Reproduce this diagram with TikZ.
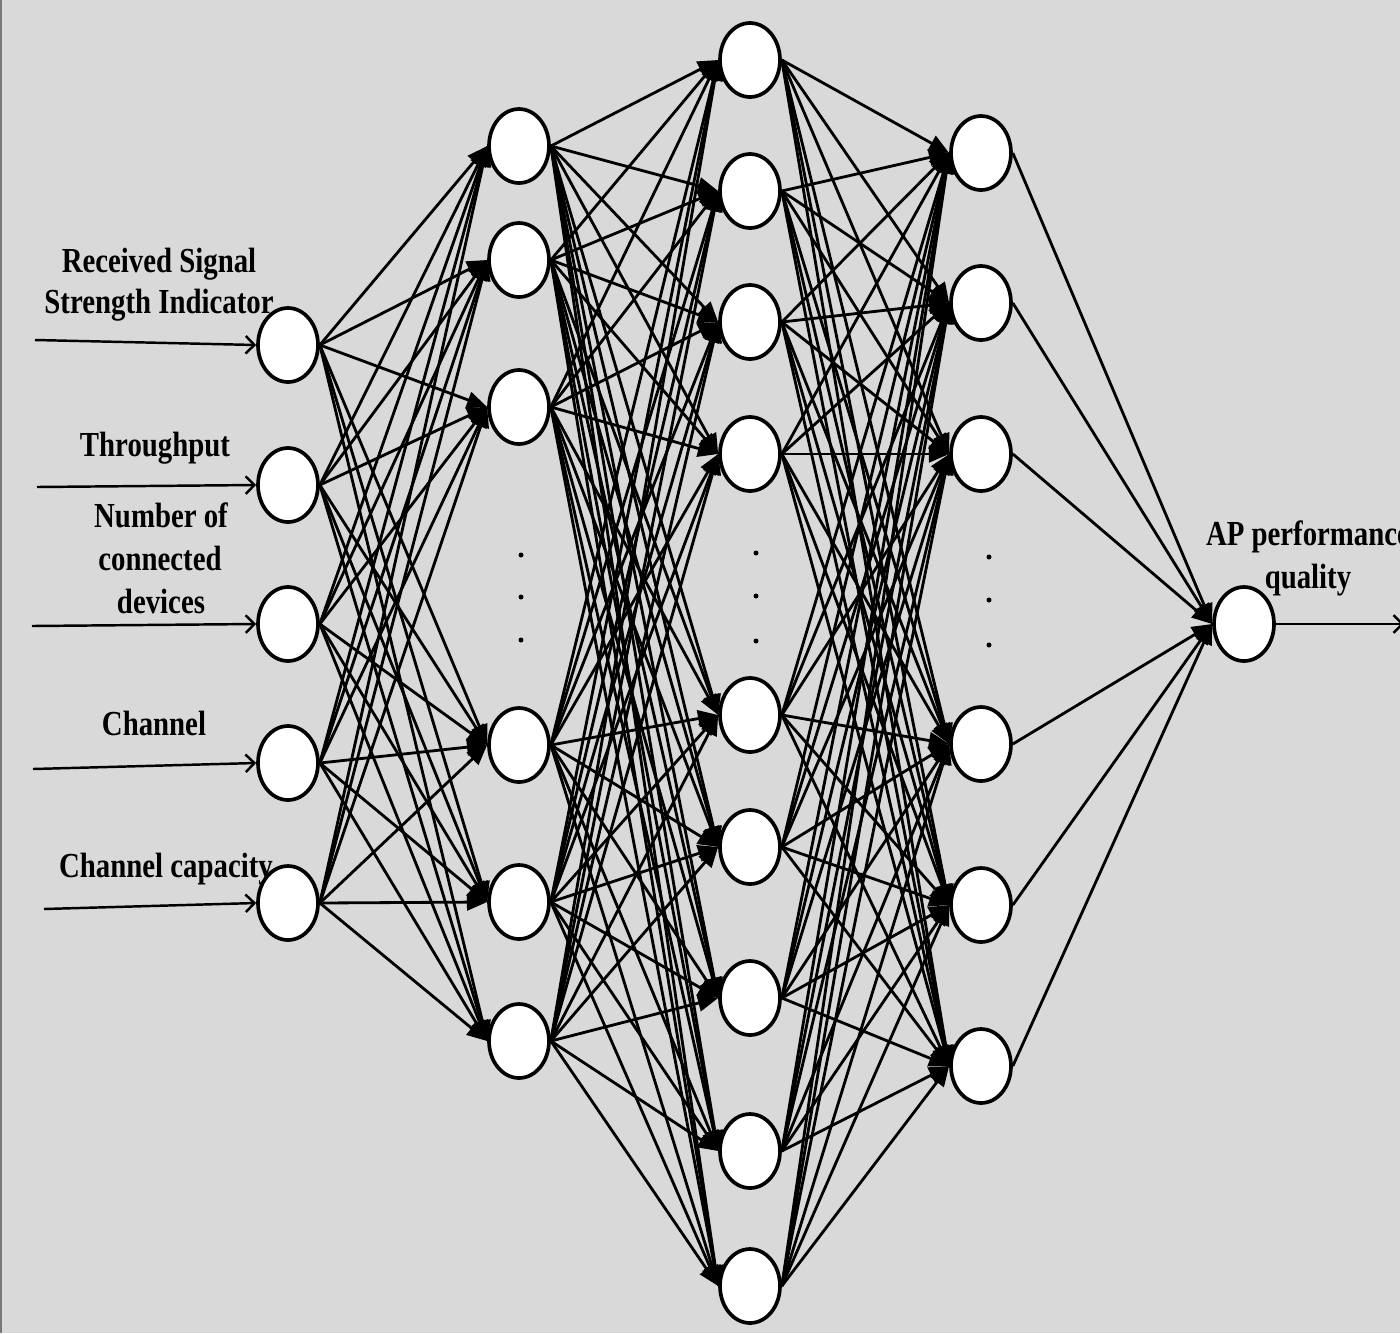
\documentclass[tikz,border=0pt]{standalone}
\usepackage{fontspec}
\newfontfamily\lab{Liberation Serif}[FakeStretch=0.82]
\usetikzlibrary{arrows.meta,shapes.geometric}
\definecolor{bg}{RGB}{217,217,217}
\definecolor{edgegray}{RGB}{120,120,120}
\begin{document}
\begin{tikzpicture}[x=0.02cm,y=-0.02cm,
  neuron/.style={ellipse,draw=black,fill=white,line width=2.1pt,minimum width=1.2cm,minimum height=1.48cm,inner sep=0pt},
  conn/.style={line width=1.6pt,-{Triangle[length=11.5pt,width=9.5pt]}},
  inarrow/.style={line width=1.4pt,-{Straight Barb[length=5pt,width=10pt]}},
  lbl/.style={font=\lab\bfseries\fontsize{20}{24}\selectfont,anchor=base,inner sep=0pt},
  dotmark/.style={fill=black}]
\useasboundingbox (0,0) rectangle (1400,1333);
\fill[bg] (0,0) rectangle (1400,1333);
\fill[edgegray] (0,0) rectangle (2,1333);
\clip (0,0) rectangle (1400,1333);

% neurons
\foreach \y [count=\i] in {345,485,624,763,903}
  \node[neuron] (a\i) at (288,\y) {};
\foreach \y [count=\i] in {146,260,407,745,902,1041}
  \node[neuron] (b\i) at (519,\y) {};
\foreach \y [count=\i] in {60,191,322,454,715,847,998,1151,1286}
  \node[neuron] (c\i) at (750,\y) {};
\foreach \y [count=\i] in {153,303,454,744,905,1066}
  \node[neuron] (d\i) at (981,\y) {};
\node[neuron] (o) at (1244,624) {};

% connections
\foreach \i in {1,...,5}
  \foreach \j in {1,...,6}
    \draw[conn] (a\i.east) -- (b\j.west);
\foreach \i in {1,...,6}
  \foreach \j in {1,...,9}
    \draw[conn] (b\i.east) -- (c\j.west);
\foreach \i in {1,...,9}
  \foreach \j in {1,...,6}
    \draw[conn] (c\i.east) -- (d\j.west);
\foreach \i in {1,...,6}
  \draw[conn] (d\i.east) -- (o.west);

% inputs and output
\coordinate (s1) at (35,340);
\coordinate (s2) at (37,487);
\coordinate (s3) at (32,626);
\coordinate (s4) at (33,769);
\coordinate (s5) at (44,909);
\coordinate (e1) at (1404,624);
\foreach \i in {1,...,5}
  \draw[inarrow] (s\i) -- (a\i.west);
\draw[inarrow] (o.east) -- (e1);

% ellipsis dots
\foreach \y in {555,597,640} \fill[dotmark] (521,\y) circle (2.5);
\foreach \y in {553,596,641} \fill[dotmark] (756,\y) circle (2.5);
\foreach \y in {557,600,645} \fill[dotmark] (989,\y) circle (2.5);

% labels
\node[lbl] (t1a) at (159,272) {Received Signal};
\node[lbl] (t1b) at (159,313) {Strength Indicator};
\node[lbl] (t2) at (155,456) {Throughput};
\node[lbl] (t3a) at (161,527) {Number of};
\node[lbl] (t3b) at (160,570) {connected};
\node[lbl] (t3c) at (161,613) {devices};
\node[lbl] (t4) at (154,735) {Channel};
\node[lbl] (t5) at (166,877) {Channel capacity};
\node[lbl] (t6a) at (1308,545) {AP performance};
\node[lbl] (t6b) at (1308,588) {quality};
\end{tikzpicture}
\end{document}
